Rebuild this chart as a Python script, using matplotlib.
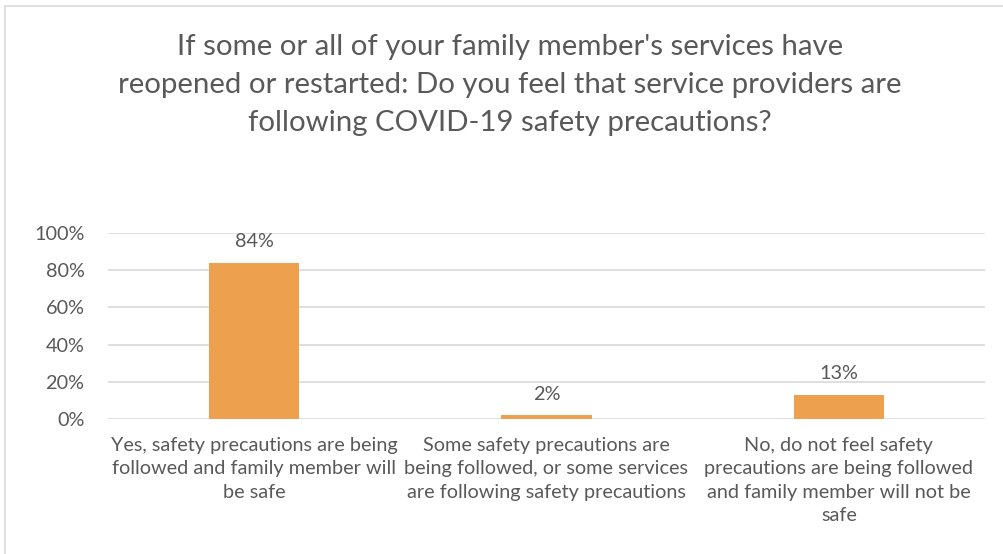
import matplotlib.pyplot as plt
from matplotlib.patches import Rectangle

categories = [
    "Yes, safety precautions are being\nfollowed and family member will\nbe safe",
    "Some safety precautions are\nbeing followed, or some services\nare following safety precautions",
    "No, do not feel safety\nprecautions are being followed\nand family member will not be\nsafe",
]
values = [84, 2, 13]
value_labels = ["84%", "2%", "13%"]
yticks = [0, 20, 40, 60, 80, 100]
ytick_labels = ["0%", "20%", "40%", "60%", "80%", "100%"]

TEXT = "#595959"
BAR = "#EDA04D"
GRID = "#D9D9D9"

plt.rcParams["font.family"] = ["Lato", "DejaVu Sans"]

fig = plt.figure(figsize=(10.04, 5.54), dpi=100)
fig.patches.append(Rectangle((5 / 1004, -0.01), 1.02, 1 - 6 / 554 + 0.01,
                             transform=fig.transFigure, fill=False,
                             edgecolor=GRID, linewidth=1.2))

fig.text(0.508, 1 - 85 / 554,
         "If some or all of your family member's services have\n"
         "reopened or restarted: Do you feel that service providers are\n"
         "following COVID-19 safety precautions?",
         ha="center", va="center", fontsize=21.2, color=TEXT, linespacing=1.58)

ax = fig.add_axes([108 / 1004, 1 - 419 / 554, 877 / 1004, 186 / 554])
x = range(len(values))
bars = ax.bar(x, values, width=0.31, color=BAR, zorder=3)
for rect, lab in zip(bars, value_labels):
    ax.annotate(lab, (rect.get_x() + rect.get_width() / 2, rect.get_height()),
                xytext=(0, 9), textcoords="offset points",
                ha="center", va="bottom", fontsize=14.3, color=TEXT)

ax.set_xlim(-0.5, 2.5)
ax.set_ylim(0, 100)
ax.set_yticks(yticks)
ax.set_yticklabels(ytick_labels)
ax.set_xticks(list(x))
ax.set_xticklabels(categories, linespacing=1.45)
ax.tick_params(axis="y", length=0, pad=17, labelsize=14.3, labelcolor=TEXT)
ax.tick_params(axis="x", length=0, pad=13, labelsize=14.3, labelcolor=TEXT)
ax.grid(axis="y", color=GRID, linewidth=1.2, zorder=0)
for s in ax.spines.values():
    s.set_visible(False)

fig.savefig("out.png", dpi=100)
